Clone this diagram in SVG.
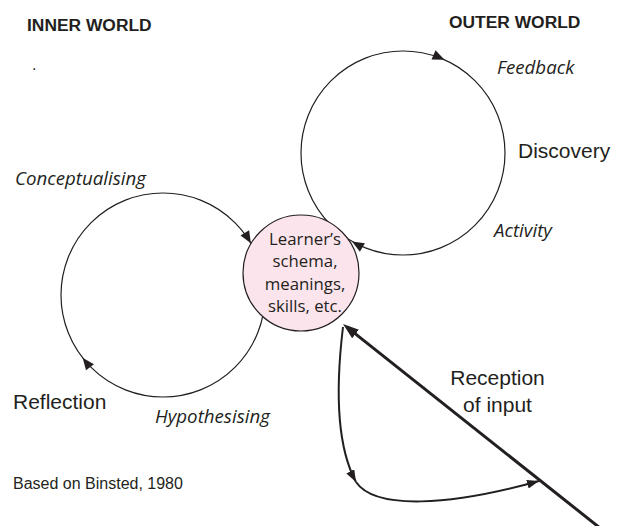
<svg xmlns="http://www.w3.org/2000/svg" xmlns:xlink="http://www.w3.org/1999/xlink" width="625" height="526" viewBox="0 0 625 526">
<style>
  .bg { fill: #ffffff; }
  .loop { fill: none; stroke: #231f20; stroke-width: 1.2; }
  .core { fill: #fce4ec; stroke: #231f20; stroke-width: 1.2; }
  .ah { fill: #231f20; }
  .thick { fill: none; stroke: #231f20; stroke-width: 3; }
  .curve { fill: none; stroke: #231f20; stroke-width: 2; }
  .head { font-family: "Liberation Sans", Arial, sans-serif; font-weight: bold; font-size: 17.4px; fill: #231f20; }
  .big { font-family: "Liberation Sans", Arial, sans-serif; font-size: 21px; fill: #231f20; }
  .small { font-family: "Liberation Sans", Arial, sans-serif; font-size: 16px; fill: #231f20; }
  .it { font-family: "Open Sans", "Noto Sans", sans-serif; font-style: italic; font-size: 18.7px; fill: #231f20; }
  .core-t { font-family: "Open Sans", "Noto Sans", sans-serif; font-size: 16.8px; fill: #231f20; text-anchor: middle; }
</style>
<defs>
  <path id="cah" class="ah" d="M0,0 L-12,-5 L-12,5 Z"/>
  <marker id="mBig" markerUnits="userSpaceOnUse" markerWidth="17" markerHeight="12" refX="3" refY="5.5" orient="auto">
    <path class="ah" d="M0,0 L16,5.5 L0,11 Z"/>
  </marker>
  <marker id="mMid" markerUnits="userSpaceOnUse" markerWidth="13" markerHeight="10" refX="12" refY="4.5" orient="auto">
    <path class="ah" d="M0,0 L12,4.5 L0,9 Z"/>
  </marker>
</defs>
<rect class="bg" x="0" y="0" width="625" height="526"/>

<g id="labels">
  <text class="head" x="27" y="31">INNER WORLD</text>
  <text class="head" x="449" y="28">OUTER WORLD</text>
  <text class="small" x="32" y="70" font-size="12">.</text>
  <text class="it" x="497" y="74">Feedback</text>
  <text class="big" x="518" y="158">Discovery</text>
  <text class="it" x="494" y="237">Activity</text>
  <text class="it" x="15" y="185">Conceptualising</text>
  <text class="big" x="13" y="409">Reflection</text>
  <text class="it" x="155" y="423">Hypothesising</text>
  <text class="small" x="13" y="489">Based on Binsted, 1980</text>
  <text class="big" x="497.5" y="385" text-anchor="middle">Reception</text>
  <text class="big" x="497.5" y="412" text-anchor="middle">of input</text>
</g>

<g id="connectors">
  <circle id="reflection-loop" class="loop" cx="163" cy="295" r="102"/>
  <circle id="discovery-loop" class="loop" cx="403" cy="153" r="102"/>
</g>

<g id="learner">
  <circle class="core" cx="301" cy="273" r="58"/>
  <text class="core-t" x="305" y="244.5">Learner’s</text>
  <text class="core-t" x="305" y="267">schema,</text>
  <text class="core-t" x="305" y="289.5">meanings,</text>
  <text class="core-t" x="305" y="312">skills, etc.</text>
</g>

<g id="loop-arrows">
  <use xlink:href="#cah" transform="translate(444.5,59.8) rotate(24)"/>
  <use xlink:href="#cah" transform="translate(352,241.5) rotate(210)"/>
  <use xlink:href="#cah" transform="translate(250.9,243.2) rotate(59.5)"/>
  <use xlink:href="#cah" transform="translate(82.6,357.8) rotate(232)"/>
</g>

<g id="reception">
  <path class="thick" d="M600,528 L353.2,332.1" marker-end="url(#mBig)"/>
  <path class="curve" d="M343,327 C336,385 336,445 356,482" marker-end="url(#mMid)"/>
  <path class="curve" d="M356,482 C375,510 450,506 539,481" marker-end="url(#mMid)"/>
</g>
</svg>
